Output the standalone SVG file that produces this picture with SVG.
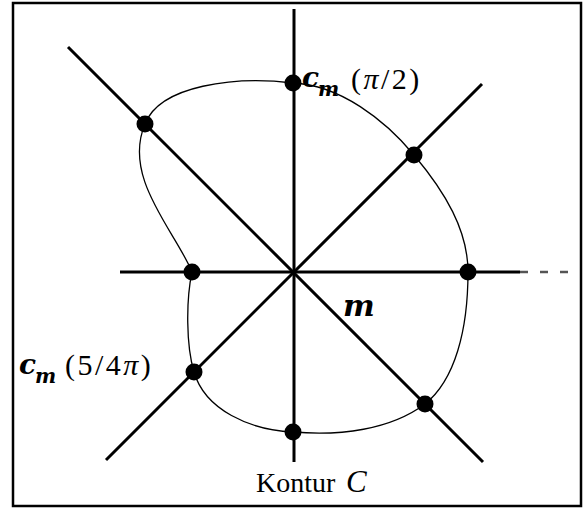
<svg xmlns="http://www.w3.org/2000/svg" width="588" height="510" viewBox="0 0 588 510">
<style>
.axis{stroke:#000;stroke-width:3;fill:none;stroke-linecap:butt}
.curve{stroke:#000;stroke-width:1.3;fill:none}
.dot{fill:#000}
.math{font-family:"DejaVu Serif","Liberation Serif",serif;font-weight:bold;font-style:italic;fill:#000}
.rm{font-family:"Liberation Serif","DejaVu Serif",serif;fill:#000}
</style>
<rect x="13" y="3" width="568" height="503" fill="#fff" stroke="#000" stroke-width="2.5"/>
<g id="connectors">
<line class="axis" x1="294" y1="9" x2="294" y2="462"/>
<line class="axis" x1="120" y1="272" x2="520" y2="272"/>
<line x1="520" y1="272" x2="568" y2="272" stroke="#555" stroke-width="2.5" stroke-dasharray="8 12"/>
<line class="axis" x1="68" y1="47" x2="483" y2="462"/>
<line class="axis" x1="106" y1="460" x2="482" y2="84"/>
<path id="contour" class="curve" d="M293,83 C340,85 385,120 414,155 C445,192 468,230 468,272 C468,330 455,380 425,404 C390,430 340,436 293,432 C250,430 205,410 194,372 C186,345 186,300 192,272 C176,232 122,178 145,124 C160,85 235,76 293,83 Z"/>
</g>
<g id="p0"><circle class="dot" cx="293" cy="83" r="8.5"/></g>
<g id="p1"><circle class="dot" cx="414" cy="155" r="8.5"/></g>
<g id="p2"><circle class="dot" cx="468" cy="272" r="8.5"/></g>
<g id="p3"><circle class="dot" cx="425" cy="404" r="8.5"/></g>
<g id="p4"><circle class="dot" cx="293" cy="432" r="8.5"/></g>
<g id="p5"><circle class="dot" cx="194" cy="372" r="8.5"/></g>
<g id="p6"><circle class="dot" cx="192" cy="272" r="8.5"/></g>
<g id="p7"><circle class="dot" cx="145" cy="124" r="8.5"/></g>
<g id="label-top">
<text class="math" x="302" y="87" font-size="28">c</text>
<text class="math" x="318" y="96" font-size="20">m</text>
<text class="rm" x="351" y="89" font-size="30" letter-spacing="2.5">(<tspan font-style="italic">π</tspan>/2)</text>
</g>
<g id="label-left">
<text class="math" x="19" y="374" font-size="28">c</text>
<text class="math" x="35" y="383" font-size="20">m</text>
<text class="rm" x="65" y="375" font-size="30" letter-spacing="2.5">(5/4<tspan font-style="italic">π</tspan>)</text>
</g>
<g id="label-m"><text class="math" x="343" y="316" font-size="30">m</text></g>
<g id="label-contour">
<text class="rm" x="256" y="492" font-size="28">Kontur</text>
<text class="rm" x="346" y="492" font-size="31" font-style="italic">C</text>
</g>
</svg>
